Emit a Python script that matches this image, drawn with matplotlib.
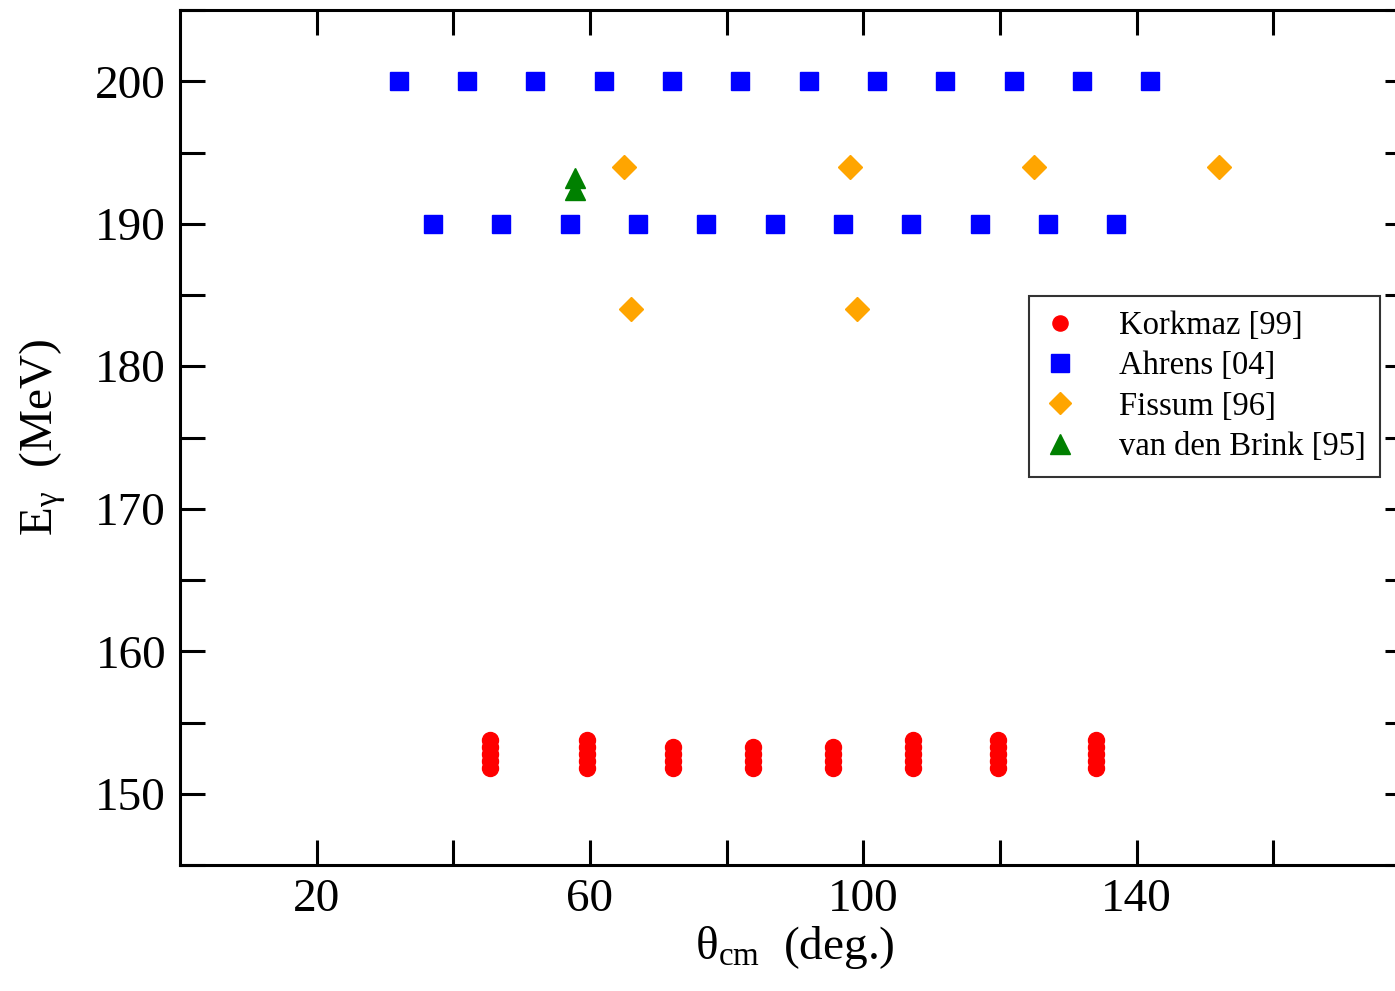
import matplotlib
matplotlib.use("Agg")
import matplotlib.pyplot as plt
from matplotlib.ticker import MultipleLocator, FixedLocator

plt.rcParams['font.family'] = ['Liberation Serif', 'DejaVu Serif']
plt.rcParams['mathtext.fontset'] = 'custom'
plt.rcParams['mathtext.rm'] = 'Liberation Serif'
plt.rcParams['mathtext.it'] = 'Liberation Serif'

# Korkmaz [99]
kork_theta = [45.3, 59.6, 72.2, 83.8, 95.5, 107.2, 119.7, 134.1]
kork_E_tall = [151.8, 152.3, 152.8, 153.3, 153.8]
kork_E_short = [151.8, 152.3, 152.8, 153.3]
kork_tall = [True, True, False, False, False, True, True, True]

# Ahrens [04]
ahr200_theta = [32, 42, 52, 62, 72, 82, 92, 102, 112, 122, 132, 142]
ahr200_E = [200] * 12
ahr190_theta = [37, 47, 57, 67, 77, 87, 97, 107, 117, 127, 137]
ahr190_E = [190] * 11

# Fissum [96]
fis_theta = [65, 98, 125, 152, 66, 99]
fis_E = [194, 194, 194, 194, 184, 184]

# van den Brink [95]
vdb_theta = [57.8, 57.8]
vdb_E = [193.2, 192.4]

fig = plt.figure(figsize=(13.95, 9.91), dpi=100)
ax = fig.add_axes([180/1395, 1 - 865/991, (1410-180)/1395, (865-10)/991])

kx, ky = [], []
for t, tall in zip(kork_theta, kork_tall):
    for e in (kork_E_tall if tall else kork_E_short):
        kx.append(t); ky.append(e)
ax.plot(kx, ky, 'o', color='#ff0000', markersize=11.5, linestyle='none', label='Korkmaz [99]')
ax.plot(ahr200_theta + ahr190_theta, ahr200_E + ahr190_E, 's', color='#0000ff',
        markersize=13.5, linestyle='none', label='Ahrens [04]')
ax.plot(fis_theta, fis_E, 'D', color='#ffa500', markersize=12, linestyle='none', label='Fissum [96]')
ax.plot(vdb_theta, vdb_E, '^', color='#008000', markersize=15, linestyle='none', label='van den Brink [95]')

ax.set_xlim(0, 180)
ax.set_ylim(145, 205)
ax.xaxis.set_major_locator(FixedLocator([20, 60, 100, 140]))
ax.xaxis.set_minor_locator(FixedLocator([40, 80, 120, 160]))
ax.yaxis.set_major_locator(MultipleLocator(10))
ax.yaxis.set_minor_locator(MultipleLocator(5))
ax.tick_params(which='both', direction='in', top=True, right=True, length=18, width=2.2,
               labelsize=34, pad=10)
for s in ax.spines.values():
    s.set_linewidth(2.2)

ax.set_xlabel('θ$_{\\rm cm}$  (deg.)', fontsize=34, labelpad=2)
ax.set_ylabel('E$_{\\rm γ}$  (MeV)', fontsize=34, labelpad=20)

leg = ax.legend(loc='upper left', bbox_to_anchor=(1029/1395, 1 - 296/991),
                bbox_transform=fig.transFigure, fontsize=23.5, frameon=True, fancybox=False,
                edgecolor='black', handlelength=1.0, handletextpad=1.3, borderpad=0.45,
                labelspacing=0.3, numpoints=1, markerscale=0.95, borderaxespad=0)
leg.get_frame().set_linewidth(1.5)

fig.savefig('out.png', dpi=100)
